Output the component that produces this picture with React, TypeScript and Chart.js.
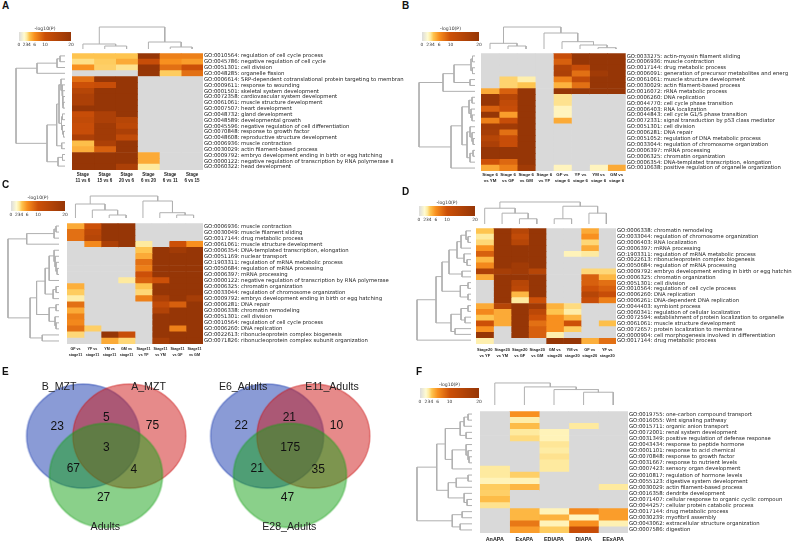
import React, { useEffect, useRef } from "react";
import { Chart, registerables } from "chart.js";
Chart.register(...registerables);

type Tree = number | [number, Tree, Tree];
const n: any = null;

// colour scale of -log10(P)
const scaleTicks = [0, 2, 3, 4, 6, 10, 20];
const scaleColors = ["#dcdcdc", "#fffbd2", "#feea9f", "#fec44f", "#f8901f", "#cc5008", "#963606"];

// ---- panel A
const goA = ["GO:0010564: regulation of cell cycle process","GO:0045786: negative regulation of cell cycle","GO:0051301: cell division","GO:0048285: organelle fission","GO:0006614: SRP-dependent cotranslational protein targeting to membran","GO:0009611: response to wounding","GO:0001501: skeletal system development","GO:0072358: cardiovascular system development","GO:0061061: muscle structure development","GO:0007507: heart development","GO:0048732: gland development","GO:0048589: developmental growth","GO:0045596: negative regulation of cell differentiation","GO:0070848: response to growth factor","GO:0048608: reproductive structure development","GO:0006936: muscle contraction","GO:0030029: actin filament-based process","GO:0009792: embryo development ending in birth or egg hatching","GO:0000122: negative regulation of transcription by RNA polymerase II","GO:0060322: head development"];
const colsA = [["Stage","11 vs 6"],["Stage","15 vs 6"],["Stage","20 vs 6"],["Stage","6 vs 20"],["Stage","6 vs 11"],["Stage","6 vs 15"]];
const heatA = [[4,4,4,20,7,7],[3.3,3.8,5,11,6,5.5],[6,3.7,3.2,20,8,10],[n,n,n,20,3.8,8],[8,20,20,n,n,n],[10,11,20,n,n,n],[14,20,20,n,n,n],[16,20,20,n,n,n],[16,20,20,n,n,n],[20,20,20,n,n,n],[11,16,20,n,n,n],[12,16,14,n,n,n],[11,18,13,n,n,n],[11,18,16,n,n,n],[16,18,12,n,n,n],[4.2,16,20,n,n,n],[4.8,9,20,n,n,n],[20,20,20,5,n,n],[20,20,20,5,n,n],[20,20,16,3,n,n]];
const topA: Tree = [22,[5,0,[3,1,2]],[7,3,[2,4,5]]];
const leftA: Tree = [49,[28,[8,[5,0,1],2],3],[18,[8.3,[6,[4,4,[3,5,[2.5,6,[2.2,7,[2,8,9]]]]],[3.5,[2.5,10,11],[2.5,12,[1.5,13,14]]]],[3.3,15,16]],[7,[2.5,17,18],19]]];

// ---- panel B
const goB = ["GO:0033275: actin-myosin filament sliding","GO:0006936: muscle contraction","GO:0017144: drug metabolic process","GO:0006091: generation of precursor metabolites and energ","GO:0061061: muscle structure development","GO:0030029: actin filament-based process","GO:0016072: rRNA metabolic process","GO:0006260: DNA replication","GO:0044770: cell cycle phase transition","GO:0006403: RNA localization","GO:0044843: cell cycle G1/S phase transition","GO:0072331: signal transduction by p53 class mediator","GO:0051301: cell division","GO:0006281: DNA repair","GO:0051052: regulation of DNA metabolic process","GO:0033044: regulation of chromosome organization","GO:0006397: mRNA processing","GO:0006325: chromatin organization","GO:0006354: DNA-templated transcription, elongation","GO:0010638: positive regulation of organelle organization"];
const colsB = [["Stage 6","vs YM"],["Stage 6","vs GF"],["Stage 6","vs GM"],["Stage 6","vs YF"],["GF vs","stage 6"],["YF vs","stage 6"],["YM vs","stage 6"],["GM vs","stage 6"]];
const heatB = [[n,n,n,n,11,20,20,20],[n,n,n,n,9,20,20,20],[n,n,n,n,15,11,20,20],[n,n,n,n,16,8,18,20],[n,3.6,2.7,n,7,12,20,20],[n,3.6,4,n,4.7,8,20,20],[5,9,20,n,20,20,20,20],[20,14,20,n,3.2,n,n,n],[20,12,20,n,3.2,n,n,n],[9,11,20,n,2.4,n,n,n],[20,5.5,20,n,2.4,n,n,n],[7,11,20,n,5,n,n,n],[18,18,20,n,n,n,n,n],[17,8,20,n,n,n,n,n],[14,11,20,n,n,n,n,n],[16,11,20,n,n,n,n,n],[20,20,20,n,n,n,n,n],[20,20,20,n,n,n,n,n],[10,8.5,20,n,n,n,n,n],[5,7,18,n,2.4,n,2.4,5]];
const topB: Tree = [22,[5.7,0,[3,1,2]],[16,3,[7.3,4,[4,5,[1.3,6,7]]]]];
const leftB: Tree = [56,[32,[21,[4,[2.5,0,1],[2.5,2,3]],[5,4,5]],6],[24,[13,[6,[3,7,8],[4,9,[3,10,11]]],[8,[5,12,[3,13,[2,14,15]]],[5,[2,16,17],18]]],19]];

// ---- panel C
const goC = ["GO:0006936: muscle contraction","GO:0030049: muscle filament sliding","GO:0017144: drug metabolic process","GO:0061061: muscle structure development","GO:0006354: DNA-templated transcription, elongation","GO:0051169: nuclear transport","GO:1903311: regulation of mRNA metabolic process","GO:0050684: regulation of mRNA processing","GO:0006397: mRNA processing","GO:0000122: negative regulation of transcription by RNA polymerase","GO:0006325: chromatin organization","GO:0033044: regulation of chromosome organization","GO:0009792: embryo development ending in birth or egg hatching","GO:0006281: DNA repair","GO:0006338: chromatin remodeling","GO:0051301: cell division","GO:0010564: regulation of cell cycle process","GO:0006260: DNA replication","GO:0022613: ribonucleoprotein complex biogenesis","GO:0071826: ribonucleoprotein complex subunit organization"];
const colsC = [["GF vs","stage11"],["YF vs","stage11"],["YM vs","stage11"],["GM vs","stage11"],["Stage11","vs YF"],["Stage11","vs YM"],["Stage11","vs GF"],["Stage11","vs GM"]];
const heatC = [[5,10,20,20,n,n,n,n],[8,13,20,20,n,n,n,n],[8,14,20,20,n,n,n,n],[n,6.5,16,20,3,n,10,6],[n,n,n,n,4,20,18,20],[n,n,n,n,5,20,20,20],[n,n,n,n,8,20,20,20],[n,n,n,n,7,20,20,20],[n,n,n,n,10,20,20,20],[n,n,n,3,9,10,20,20],[4.8,n,n,n,4,20,20,20],[3.8,n,n,n,3.5,20,20,20],[2.8,n,n,n,7,16,20,17],[8,n,n,n,n,12,9,20],[5,n,n,n,n,15,20,20],[7,n,n,n,n,20,20,20],[6.5,n,n,n,n,20,20,20],[8,3.7,n,n,n,20,7,20],[3.5,n,20,11,n,20,20,20],[n,n,5,3.5,n,17,20,20]];
const topC: Tree = [22,[14,0,[8,1,[3,2,3]]],[17,4,[5.3,5,[3,6,7]]]];
const leftC: Tree = [51.7,[32.7,[5,[3,0,1],2],3],[29.3,[22.7,[14,[10,[5,4,[4,5,[3,6,[2,7,8]]]],9],[6,[3,10,11],12]],[10,[3,13,14],[4,15,[3,16,17]]]],[17,18,19]]];

// ---- panel D
const goD = ["GO:0006338: chromatin remodeling","GO:0033044: regulation of chromosome organization","GO:0006403: RNA localization","GO:0006397: mRNA processing","GO:1903311: regulation of mRNA metabolic process","GO:0022613: ribonucleoprotein complex biogenesis","GO:0050684: regulation of mRNA processing","GO:0009792: embryo development ending in birth or egg hatchin","GO:0006325: chromatin organization","GO:0051301: cell division","GO:0010564: regulation of cell cycle process","GO:0006260: DNA replication","GO:0006261: DNA-dependent DNA replication","GO:0044403: symbiont process","GO:0060341: regulation of cellular localization","GO:0072594: establishment of protein localization to organelle","GO:0061061: muscle structure development","GO:0072657: protein localization to membrane","GO:0000904: cell morphogenesis involved in differentiation","GO:0017144: drug metabolic process"];
const colsD = [["Stage20","vs YF"],["Stage20","vs YM"],["Stage20","vs GF"],["Stage20","vs GM"],["GM vs","stage20"],["YM vs","stage20"],["GF vs","stage20"],["YF vs","stage20"]];
const heatD = [[4,20,14,20,n,n,5,n],[3,20,12,20,n,n,6,n],[3.5,20,14,20,n,n,3.5,n],[6,20,20,20,n,n,5,n],[9,20,20,20,n,2.5,3,n],[4.5,20,20,20,n,n,n,n],[6.5,20,18,20,n,n,n,n],[16,17,18,14,n,n,3.5,3.5],[5,20,20,20,n,n,9,4.5],[n,20,14,20,n,n,9,8],[n,20,13,20,n,n,10,9],[n,20,4.5,20,n,n,14,11],[n,20,3,10,n,n,11,7],[5,14,20,18,4.7,3.4,n,n],[6.5,5,20,13,4,2.8,n,n],[4,5,20,10,6,4.5,n,n],[10,5,20,8,6,10,n,4.2],[6,n,20,9,6,3.8,n,n],[20,n,20,9,2.7,n,n,n],[2.7,n,n,n,20,20,4.8,8]];
const topD: Tree = [22.3,[16,0,[11,1,[5.3,2,3]]],[18,[5.3,4,5],[11,6,7]]];
const leftD: Tree = [54,[35,[29,[22,[14,[10,[5,0,[3,1,2]],3],[7,4,[4,5,6]]],[9,7,8]],[10.7,[3,9,10],[3,11,12]]],[20,[10,[3,13,14],[6,15,16]],[16,17,18]]],19];

// ---- panel F
const goF = ["GO:0019755: one-carbon compound transport","GO:0016055: Wnt signaling pathway","GO:0015711: organic anion transport","GO:0072001: renal system development","GO:0031349: positive regulation of defense response","GO:0043434: response to peptide hormone","GO:0001101: response to acid chemical","GO:0070848: response to growth factor","GO:0031667: response to nutrient levels","GO:0007423: sensory organ development","GO:0010817: regulation of hormone levels","GO:0055123: digestive system development","GO:0030029: actin filament-based process","GO:0016358: dendrite development","GO:0071407: cellular response to organic cyclic compoun","GO:0044257: cellular protein catabolic process","GO:0017144: drug metabolic process","GO:0030239: myofibril assembly","GO:0043062: extracellular structure organization","GO:0007586: digestion"];
const colsF = [["AnAPA"],["ExAPA"],["EDIAPA"],["DIAPA"],["EExAPA"]];
const heatF = [[n,6,n,n,n],[n,2.8,n,n,n],[n,4.3,n,3,n],[n,3,2.5,n,n],[n,3.4,2.5,n,n],[n,n,3.1,n,n],[n,n,2.9,n,n],[n,n,3.2,n,n],[n,n,3,n,n],[3,n,3,n,n],[3,3.7,n,n,n],[2.5,2.5,n,n,n],[3.8,4.5,n,n,3],[3.7,n,n,n,n],[4.3,n,n,n,n],[3.2,n,n,n,n],[n,4.5,2.5,6.5,5.5],[n,4.5,4.7,2.4,5.5],[n,7.5,2.5,6,2.6],[n,5.5,3.8,11,n]];
const topF: Tree = [22.4,0,[18.4,1,[15.7,2,[13,3,4]]]];
const leftF: Tree = [55.7,[35.7,[27,[12,[8,[4,0,1],2],[6,3,4]],[20,[6,5,[4,6,[3,7,8]]],9]],[24,[16,[4,10,11],12],[8,13,[5,14,15]]]],[20,[10,16,17],[12,18,19]]];

// ---- panel E
const vennLeftNames = ["B_MZT", "A_MZT", "Adults"];
const vennLeftCounts = [23, 5, 75, 3, 67, 4, 27];
const vennRightNames = ["E6_Adults", "E11_Adults", "E28_Adults"];
const vennRightCounts = [22, 21, 10, 175, 21, 35, 47];

function hex(c: string) { return [1, 3, 5].map((i) => parseInt(c.slice(i, i + 2), 16)); }
function colorOf(v: number | null) {
  if (v === null) return "#d9d9d9";
  for (let i = 1; i < scaleTicks.length; i++) {
    if (v <= scaleTicks[i]) {
      const t = (v - scaleTicks[i - 1]) / (scaleTicks[i] - scaleTicks[i - 1]);
      const a = hex(scaleColors[i - 1]), b = hex(scaleColors[i]);
      return `rgb(${a.map((x, k) => Math.round(x + (b[k] - x) * t)).join(",")})`;
    }
  }
  return scaleColors[scaleColors.length - 1];
}

function treeSegments(t: Tree, out: number[][][]): [number, number] {
  if (typeof t === "number") return [t + 0.5, 0];
  const [h, a, b] = t;
  const [pa, ha] = treeSegments(a, out);
  const [pb, hb] = treeSegments(b, out);
  out.push([[pa, ha], [pa, h], [pb, h], [pb, hb]]);
  return [(pa + pb) / 2, h];
}

const PAD_L = 8, PAD_T = 4;
function heatConfig(rows: string[], cols: string[][], heat: any[][], font: number, tickPad: number, labelW: number, colFont: number): any {
  return {
    type: "bar",
    data: {
      labels: rows,
      datasets: cols.map((_, c) => ({
        data: heat.map(() => [c, c + 1]),
        backgroundColor: heat.map((r) => colorOf(r[c])),
        grouped: false, barPercentage: 1, categoryPercentage: 1, borderWidth: 0,
      })),
    },
    options: {
      indexAxis: "y", responsive: false, animation: false, events: [],
      layout: { padding: { left: PAD_L, top: PAD_T, right: 0, bottom: 0 } },
      plugins: { legend: { display: false }, tooltip: { enabled: false }, title: { display: false } },
      scales: {
        x: {
          type: "linear", min: 0, max: cols.length, border: { display: false }, grid: { display: false, drawTicks: false },
          afterBuildTicks: (s: any) => { s.ticks = cols.map((_, i) => ({ value: i + 0.5 })); },
          afterFit: (s: any) => { s.height = 24; },
          ticks: {
            autoSkip: false, maxRotation: 0, minRotation: 0, padding: tickPad, color: "#222",
            font: { family: "'Liberation Sans'", size: colFont, weight: "bold", lineHeight: 6 / colFont },
            callback: (_v: any, i: number) => cols[i],
          },
        },
        y: {
          type: "category", position: "right", border: { display: false }, grid: { display: false, drawTicks: false },
          afterFit: (s: any) => { s.width = labelW; },
          ticks: {
            autoSkip: false, maxRotation: 0, minRotation: 0, padding: 1, color: "#222", align: "center", crossAlign: "near",
            font: { family: "'DejaVu Sans'", size: font },
          },
        },
      },
    },
  };
}

const LINE = "#b0b0b0";
function dendroConfig(tree: Tree, leaves: number, top: boolean, maxH: number): any {
  const segs: number[][][] = [];
  treeSegments(tree, segs);
  const axisLeaf = { type: "linear", display: false, min: 0, max: leaves, reverse: !top };
  const axisH = { type: "linear", display: false, min: 0, max: maxH, reverse: !top };
  return {
    type: "scatter",
    data: {
      datasets: segs.map((s) => ({
        data: s.map(([p, h]) => (top ? { x: p, y: h } : { x: h, y: p })),
        showLine: true, pointRadius: 0, borderColor: LINE, borderWidth: 1, clip: false, tension: 0,
      })),
    },
    options: {
      responsive: false, animation: false, events: [],
      layout: { padding: 0 },
      plugins: { legend: { display: false }, tooltip: { enabled: false } },
      scales: top ? { x: axisLeaf, y: axisH } : { x: axisH, y: axisLeaf },
    },
  };
}

function barConfig(): any {
  return {
    type: "bar",
    data: {
      labels: ["-log10(P)"],
      datasets: [{
        data: [[0, 20]], barPercentage: 1, categoryPercentage: 1, borderWidth: 0,
        backgroundColor: (c: any) => {
          const a = c.chart.chartArea;
          if (!a) return "#ccc";
          const g = c.chart.ctx.createLinearGradient(a.left, 0, a.right, 0);
          scaleTicks.forEach((t, i) => g.addColorStop(t / 20, scaleColors[i]));
          return g;
        },
      }],
    },
    options: {
      indexAxis: "y", responsive: false, animation: false, events: [],
      layout: { padding: { left: 5, right: 5, top: 0, bottom: 0 } },
      plugins: {
        legend: { display: false }, tooltip: { enabled: false },
        title: { display: true, text: "-log10(P)", color: "#333", padding: { top: 0, bottom: 0.5 }, font: { family: "'DejaVu Sans'", size: 4.6, weight: "normal", lineHeight: 1.2 } },
      },
      scales: {
        x: {
          type: "linear", min: 0, max: 20, border: { display: false }, grid: { display: false, drawTicks: false },
          afterBuildTicks: (s: any) => { s.ticks = scaleTicks.map((value) => ({ value })); },
          afterFit: (s: any) => { s.height = 8; },
          ticks: { autoSkip: false, maxRotation: 0, padding: 1, color: "#333", font: { family: "'DejaVu Sans'", size: 4.4 } },
        },
        y: { display: false },
      },
    },
  };
}

function ellipseSprite(rx: number, ry: number, color: string) {
  const c = document.createElement("canvas");
  c.width = Math.ceil(rx * 2 + 4); c.height = Math.ceil(ry * 2 + 4);
  const g = c.getContext("2d")!;
  g.beginPath();
  g.ellipse(c.width / 2, c.height / 2, rx, ry, 0, 0, Math.PI * 2);
  g.fillStyle = `rgba(${color},0.5)`; g.fill();
  g.strokeStyle = `rgba(${color},0.5)`; g.lineWidth = 1.3; g.stroke();
  return c;
}

const vennColors = ["21,55,173", "205,21,21", "21,161,21"];
function vennConfig(names: string[], counts: number[], centers: number[][], namePos: number[][], countPos: number[][]): any {
  const textPlugin = {
    id: "vennText",
    afterDatasetsDraw(ch: any) {
      const g = ch.ctx, sx = ch.scales.x, sy = ch.scales.y;
      g.save();
      g.textAlign = "center"; g.textBaseline = "middle";
      g.fillStyle = "#222";
      g.font = "10.6px 'Liberation Sans'";
      names.forEach((t, i) => g.fillText(t, sx.getPixelForValue(namePos[i][0]), sy.getPixelForValue(namePos[i][1])));
      g.fillStyle = "#111";
      g.font = "12px 'Liberation Sans'";
      counts.forEach((t, i) => g.fillText(String(t), sx.getPixelForValue(countPos[i][0]), sy.getPixelForValue(countPos[i][1])));
      g.restore();
    },
  };
  return {
    type: "scatter",
    plugins: [textPlugin],
    data: {
      datasets: centers.map(([x, y], i) => ({
        // Chart.js paints the highest order first: blue at the bottom, green on top
        order: centers.length - i,
        data: [{ x, y }], pointStyle: ellipseSprite(56.5, 52, vennColors[i]), pointRadius: 10, clip: false,
      })),
    },
    options: {
      responsive: false, animation: false, events: [],
      layout: { padding: 0 },
      plugins: { legend: { display: false }, tooltip: { enabled: false } },
      scales: {
        x: { type: "linear", display: false, min: 0, max: 200 },
        y: { type: "linear", display: false, min: 370, max: 545, reverse: true },
      },
    },
  };
}

function Cv({ x, y, w, h, make }: { x: number; y: number; w: number; h: number; make: () => any }) {
  const ref = useRef<HTMLCanvasElement>(null);
  useEffect(() => {
    const ch = new Chart(ref.current!, make());
    return () => ch.destroy();
  }, []);
  return (
    <div style={{ position: "absolute", left: x, top: y, width: w, height: h }}>
      <canvas ref={ref} width={w} height={h} />
    </div>
  );
}

const panels = [
  { letter: "A", lx: 2, ly: 0, rows: goA, cols: colsA, heat: heatA, top: topA, left: leftA, hx: 72, hy: 52.7, hw: 131, hh: 116.6, topBase: 49, topH: 23, leftBase: 65, leftH: 50, barX: 19, barY: 32, barW: 52, barH: 9, font: 5.3, tickPad: 1.7, colFont: 4.5 },
  { letter: "B", lx: 402, ly: 0, rows: goB, cols: colsB, heat: heatB, top: topB, left: leftB, hx: 481, hy: 53.3, hw: 144.7, hh: 118, topBase: 49, topH: 23, leftBase: 475, leftH: 57, barX: 422.3, barY: 32.3, barW: 57.7, barH: 9, font: 5.3, tickPad: 1, colFont: 4.4 },
  { letter: "C", lx: 2, ly: 179, rows: goC, cols: colsC, heat: heatC, top: topC, left: leftC, hx: 66.7, hy: 223, hw: 135.3, hh: 121, topBase: 218, topH: 23, leftBase: 60, leftH: 52.7, barX: 11, barY: 201, barW: 54.7, barH: 10, font: 5.3, tickPad: 2, colFont: 3.7 },
  { letter: "D", lx: 402, ly: 186, rows: goD, cols: colsD, heat: heatD, top: topD, left: leftD, hx: 476.3, hy: 228, hw: 139.7, hh: 115.7, topBase: 224, topH: 23.3, leftBase: 470.7, leftH: 55, barX: 419.3, barY: 206.7, barW: 56.4, barH: 10, font: 5.3, tickPad: 3, colFont: 4 },
  { letter: "F", lx: 416, ly: 366, rows: goF, cols: colsF, heat: heatF, top: topF, left: leftF, hx: 480, hy: 410.7, hw: 148, hh: 122, topBase: 405.7, topH: 23.4, leftBase: 473, leftH: 56.7, barX: 420, barY: 388.3, barW: 59.3, barH: 10, font: 5.3, tickPad: 4, colFont: 5.4 },
];

const ellipsesL = [[81, 433], [133, 433], [106.7, 478]];
const namesL = [[54, 377], [154.5, 377], [106, 537]];
const countsL = [[52, 422], [107, 412], [159, 421], [107, 446], [70, 470], [138, 471], [104, 504]];
const ellipsesR = [[63, 433], [115, 433], [88.7, 478]];
const namesR = [[36, 377], [136, 377], [88, 537]];
const countsR = [[34, 421.5], [88, 412], [141, 421], [89, 446.5], [52, 470], [120.5, 471], [86, 504]];

const letterStyle = (x: number, y: number): React.CSSProperties => ({
  position: "absolute", left: x, top: y, font: "bold 10px 'Liberation Sans'", lineHeight: "12px", color: "#111",
});

export default function App() {
  return (
    <div style={{ position: "absolute", left: 0, top: 0, width: 800, height: 545, background: "#fff", overflow: "hidden", filter: "blur(0.3px)" }}>
      {panels.map((p) => {
        const rightEdge = p.hx + p.hw;
        const labelW = 800 - rightEdge;
        return (
          <React.Fragment key={p.letter}>
            <div style={letterStyle(p.lx, p.ly)}>{p.letter}</div>
            <Cv x={p.hx - PAD_L} y={p.hy - PAD_T} w={Math.ceil(PAD_L + p.hw + labelW)} h={Math.ceil(PAD_T + p.hh + 24)}
              make={() => heatConfig(p.rows, p.cols, p.heat, p.font, p.tickPad, labelW, p.colFont)} />
            <Cv x={p.hx} y={p.topBase - p.topH} w={p.hw} h={p.topH} make={() => dendroConfig(p.top, p.cols.length, true, p.topH)} />
            <Cv x={p.leftBase - p.leftH} y={p.hy} w={p.leftH} h={p.hh} make={() => dendroConfig(p.left, p.rows.length, false, p.leftH)} />
            <Cv x={p.barX - 5} y={p.barY - 6.5} w={p.barW + 10} h={6.5 + p.barH + 8} make={() => barConfig()} />
          </React.Fragment>
        );
      })}
      <div style={letterStyle(2, 366)}>E</div>
      <Cv x={0} y={370} w={200} h={175} make={() => vennConfig(vennLeftNames, vennLeftCounts, ellipsesL, namesL, countsL)} />
      <Cv x={200} y={370} w={200} h={175} make={() => vennConfig(vennRightNames, vennRightCounts, ellipsesR, namesR, countsR)} />
    </div>
  );
}
